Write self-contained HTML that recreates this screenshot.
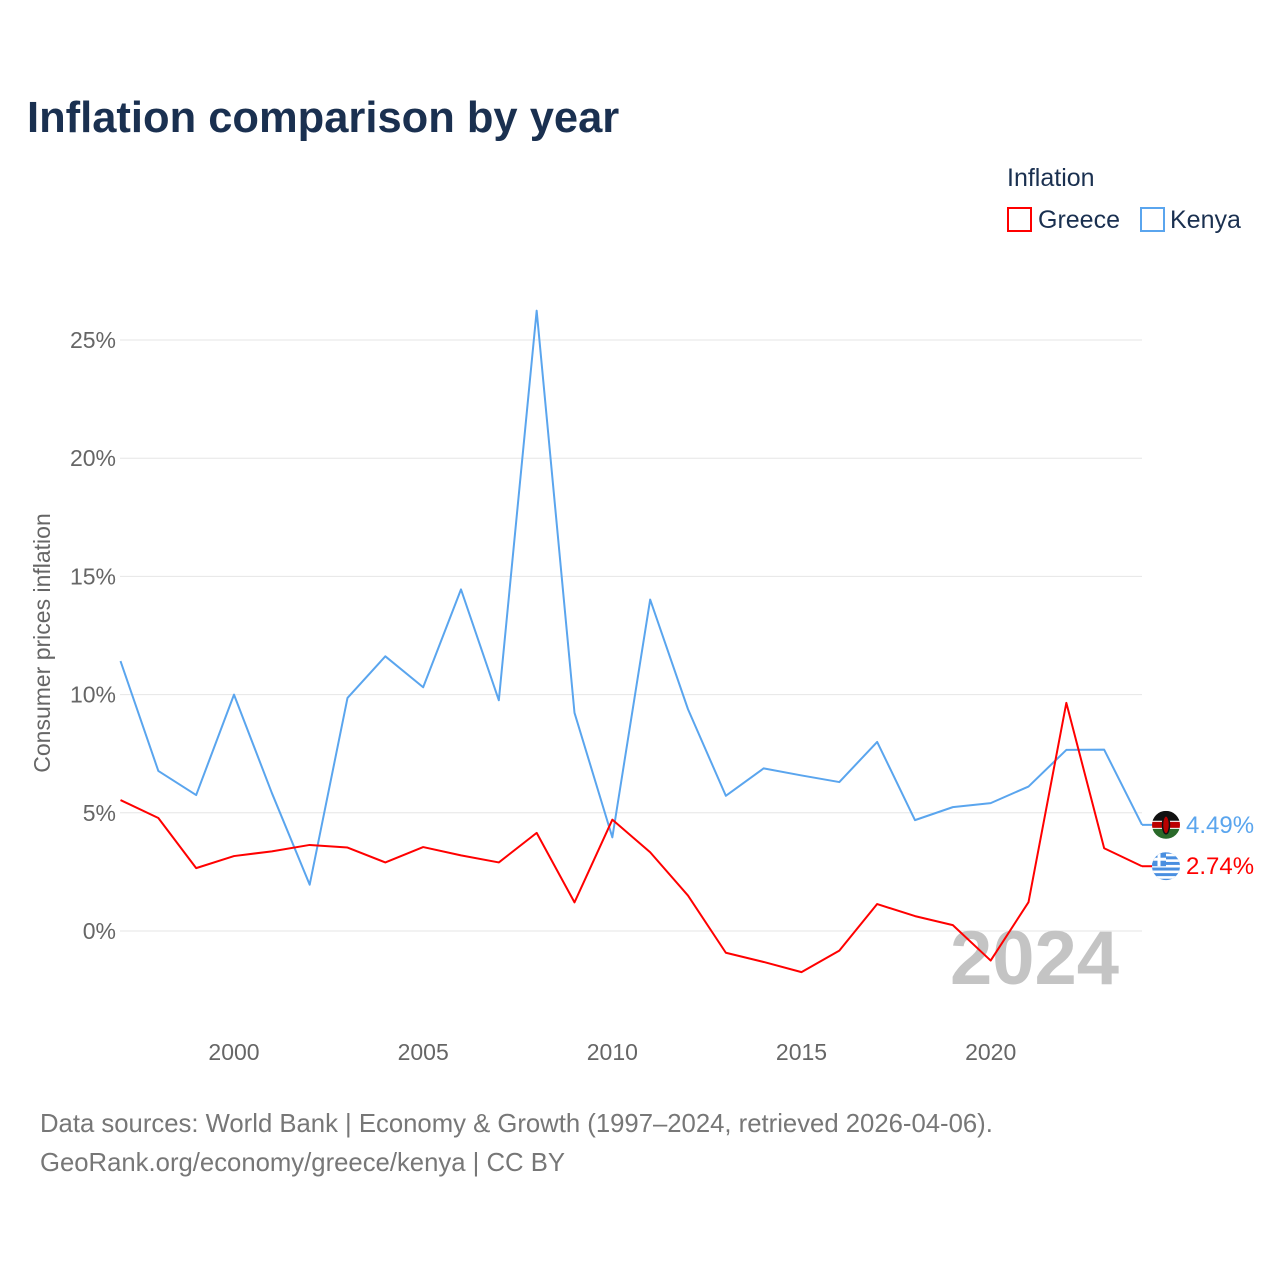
<!DOCTYPE html>
<html><head><meta charset="utf-8">
<style>
body{margin:0;background:#fff;font-family:"Liberation Sans",sans-serif;}
svg{display:block}
</style></head>
<body>
<svg id="chart" width="1280" height="1280" viewBox="0 0 1280 1280">
<rect width="1280" height="1280" fill="#fff"/>
<text x="27" y="132" font-size="43.5" font-weight="bold" fill="#1a3050">Inflation comparison by year</text>
<text x="1007" y="186" font-size="25" fill="#1a3050">Inflation</text>
<g>
<rect x="1008" y="208" width="23" height="23" fill="none" stroke="#ff0000" stroke-width="2"/>
<text x="1038" y="228" font-size="25" fill="#1a3050">Greece</text></g>
<g>
<rect x="1141" y="208" width="23" height="23" fill="none" stroke="#5aa5ee" stroke-width="2"/>
<text x="1170" y="228" font-size="25" fill="#1a3050">Kenya</text></g>
<g id="grid"></g>
<g id="yticks"></g>
<g id="xticks"></g>
<text x="950" y="984" font-size="76" font-weight="bold" fill="#c4c4c4">2024</text>
<text transform="translate(50,643) rotate(-90)" text-anchor="middle" font-size="23" fill="#666">Consumer prices inflation</text>
<g id="series"></g>
<text x="40" y="1132" font-size="25.7" fill="#777">Data sources: World Bank | Economy &amp; Growth (1997–2024, retrieved 2026-04-06).</text>
<text x="40" y="1171" font-size="25.7" fill="#777">GeoRank.org/economy/greece/kenya | CC BY</text>
</svg>
<script>
const years=[1997,1998,1999,2000,2001,2002,2003,2004,2005,2006,2007,2008,2009,2010,2011,2012,2013,2014,2015,2016,2017,2018,2019,2020,2021,2022,2023,2024];
const kenya=[11.42,6.77,5.75,10.0,5.84,1.96,9.86,11.62,10.31,14.45,9.76,26.24,9.23,3.96,14.02,9.38,5.72,6.88,6.58,6.3,8.0,4.69,5.24,5.41,6.11,7.66,7.67,4.49];
const greece=[5.54,4.78,2.66,3.17,3.37,3.64,3.53,2.90,3.55,3.2,2.90,4.15,1.21,4.71,3.33,1.5,-0.92,-1.31,-1.74,-0.83,1.14,0.63,0.25,-1.25,1.22,9.65,3.5,2.74];
const yTicks=[0,5,10,15,20,25];
const xTicks=[2000,2005,2010,2015,2020];
const NS="http://www.w3.org/2000/svg";
const xs=y=>120.5+(y-1997)*(1142-120.5)/27;
const ys=v=>931-v*(931-340)/25;
function mk(tag,attrs,parent){const e=document.createElementNS(NS,tag);for(const k in attrs)e.setAttribute(k,attrs[k]);parent.appendChild(e);return e;}
const svg=document.getElementById('chart');
const grid=document.getElementById('grid'),yt=document.getElementById('yticks'),xt=document.getElementById('xticks'),ser=document.getElementById('series');
const defs=mk('defs',{},svg);
yTicks.forEach(t=>{
 const l=mk('line',{x1:120,x2:1142,y1:ys(t),y2:ys(t),stroke:'#e6e6e6','stroke-width':1},grid);
 
 
 const tx=mk('text',{x:116,y:ys(t)+8,'text-anchor':'end','font-size':23,fill:'#666'},yt);
 tx.textContent=t+'%';
 
 
});
xTicks.forEach(t=>{
 const tx=mk('text',{x:xs(t),y:1060,'text-anchor':'middle','font-size':23,fill:'#666'},xt);
 tx.textContent=t;
 
 
});
function line(vals,color,name){
 const p=mk('polyline',{points:vals.map((v,i)=>xs(years[i])+','+ys(v)).join(' '),fill:'none',stroke:color,'stroke-width':2,'stroke-linejoin':'round'},ser);
 
 
}
line(kenya,'#5aa5ee','kenya-line');
line(greece,'#ff0000','greece-line');
function endLabel(vals,color,name,flag){
 const v=vals[vals.length-1],x=xs(years[years.length-1]),y=ys(v);
 mk('line',{x1:x,x2:x+10,y1:y,y2:y,stroke:color,'stroke-width':2},ser);
 const cx=1166,cy=y;
 const cp=mk('clipPath',{id:'clip-'+flag},defs);
 mk('circle',{cx:cx,cy:cy,r:14},cp);
 const g=mk('g',{'clip-path':'url(#clip-'+flag+')'},ser);
 
 
 if(flag==='ke'){
  mk('rect',{x:cx-14,y:cy-14,width:28,height:10,fill:'#111'},g);
  mk('rect',{x:cx-14,y:cy-4,width:28,height:8,fill:'#fff'},g);
  mk('rect',{x:cx-14,y:cy-3,width:28,height:6,fill:'#b00'},g);
  mk('rect',{x:cx-14,y:cy+4,width:28,height:10,fill:'#2a6a2a'},g);
  mk('ellipse',{cx:cx,cy:cy,rx:3.5,ry:9,fill:'#b00',stroke:'#111','stroke-width':1.5},g);
 } else {
  mk('rect',{x:cx-14,y:cy-14,width:28,height:28,fill:'#4a8fe0'},g);
  for(let i=-2;i<=2;i++) mk('rect',{x:cx-14,y:cy+i*5.6-1.3,width:28,height:2.6,fill:'#fff'},g);
  mk('rect',{x:cx-14,y:cy-14,width:14,height:14,fill:'#4a8fe0'},g);
  mk('rect',{x:cx-14,y:cy-8.5,width:14,height:3,fill:'#fff'},g);
  mk('rect',{x:cx-8.5,y:cy-14,width:3,height:14,fill:'#fff'},g);
 }
 const t=mk('text',{x:1186,y:y+8,'font-size':24,fill:color},ser);
 t.textContent=v.toFixed(2)+'%';
 
 
}
endLabel(kenya,'#5aa5ee','kenya','ke');
endLabel(greece,'#ff0000','greece','gr');
</script>
</body></html>
